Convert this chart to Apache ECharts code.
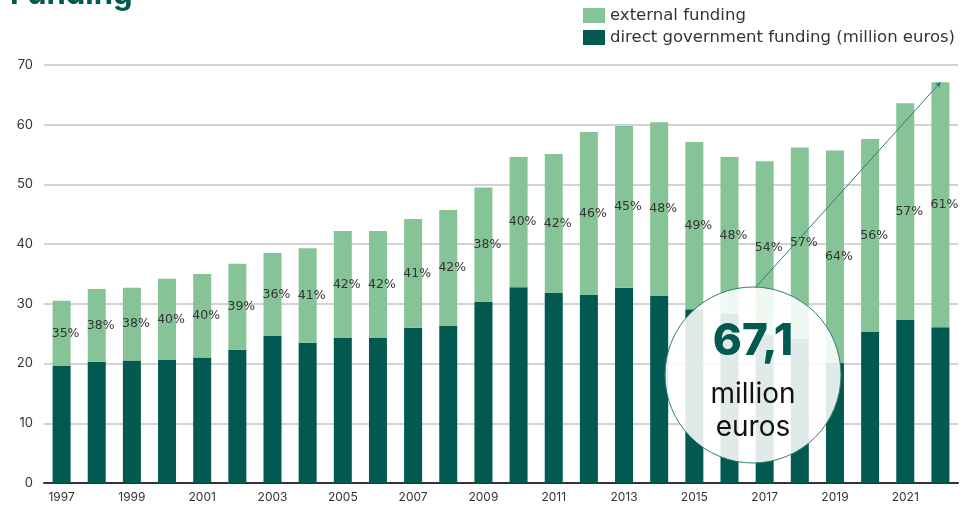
<!DOCTYPE html>
<html>
<head>
<meta charset="utf-8">
<script src="https://cdn.jsdelivr.net/npm/echarts@6/dist/echarts.min.js"></script>
<style>
  html, body { margin: 0; padding: 0; background: #fff; }
  #fundingChart { width: 971px; height: 510px; }
</style>
</head>
<body>
<div id="fundingChart"></div>
<script>
// 数据
const years = ['1997', '1998', '1999', '2000', '2001', '2002', '2003', '2004', '2005', '2006', '2007', '2008', '2009',
  '2010', '2011', '2012', '2013', '2014', '2015', '2016', '2017', '2018', '2019', '2020', '2021', '2022']
const directFunding = [19.6, 20.3, 20.5, 20.6, 21.0, 22.3, 24.6, 23.5, 24.3, 24.3, 26.0, 26.3, 30.3,
  32.8, 31.8, 31.5, 32.7, 31.3, 29.1, 28.3, 24.8, 24.2, 20.1, 25.3, 27.3, 26.1]
const externalFunding = [10.9, 12.2, 12.2, 13.6, 14.0, 14.4, 13.9, 15.8, 17.9, 17.9, 18.2, 19.4, 19.2,
  21.8, 23.3, 27.3, 27.1, 29.1, 28.0, 26.3, 29.1, 32.0, 35.6, 32.3, 36.3, 41.0]
const externalShare = ['35%', '38%', '38%', '40%', '40%', '39%', '36%', '41%', '42%', '42%', '41%', '42%', '38%',
  '40%', '42%', '46%', '45%', '48%', '49%', '48%', '54%', '57%', '64%', '56%', '57%', '61%']
const totalLabel = '67,1'

const darkGreen = '#02594f'
const lightGreen = '#86c497'
const wideFont = '"DejaVu Sans", sans-serif'

const chart = echarts.init(document.getElementById('fundingChart'))

const option = {
  animation: false,
  textStyle: { fontFamily: 'Inter, "Noto Sans", sans-serif' },
  legend: {
    orient: 'vertical',
    left: 578,
    top: 2,
    itemWidth: 22,
    itemHeight: 15,
    itemGap: 5,
    icon: 'rect',
    textStyle: { fontSize: 16.5, color: '#333', fontFamily: wideFont },
    data: ['external funding', 'direct government funding (million euros)']
  },
  grid: {
    left: 44,
    right: 13,
    top: 65,
    bottom: 27
  },
  xAxis: {
    type: 'category',
    data: years,
    axisTick: { show: false },
    axisLine: { lineStyle: { color: '#333', width: 2 } },
    axisLabel: { interval: 1, color: '#333', fontSize: 12, margin: 8 }
  },
  yAxis: {
    type: 'value',
    min: 0,
    max: 70,
    interval: 10,
    axisLabel: { color: '#333', fontSize: 13, margin: 11 },
    splitLine: { lineStyle: { color: '#c4c4c4', width: 1.5 } }
  },
  series: [
    {
      name: 'direct government funding (million euros)',
      type: 'bar',
      stack: 'total',
      barWidth: 18,
      itemStyle: { color: darkGreen },
      data: directFunding
    },
    {
      name: 'external funding',
      type: 'bar',
      stack: 'total',
      barWidth: 18,
      itemStyle: { color: lightGreen },
      label: {
        show: true,
        position: 'inside',
        offset: [4, 0],
        color: '#333',
        fontSize: 12.5,
        fontFamily: wideFont,
        formatter: p => externalShare[p.dataIndex]
      },
      data: externalFunding,
      markLine: {
        silent: true,
        symbol: ['none', 'arrow'],
        symbolSize: 5,
        label: { show: false },
        lineStyle: { color: '#2e7d72', width: 1, type: 'solid' },
        data: [[
          { x: 755, y: 288 },
          { coord: ['2022', directFunding[25] + externalFunding[25]] }
        ]]
      }
    }
  ],
  graphic: [
    {
      type: 'text',
      left: 10,
      top: -21,
      style: {
        text: 'Funding',
        fill: darkGreen,
        font: 'bold 31px Inter, "Noto Sans", sans-serif'
      }
    },
    {
      type: 'circle',
      z: 100,
      shape: { cx: 753, cy: 375, r: 88 },
      style: { fill: 'rgba(255,255,255,0.88)', stroke: '#2e7d72', lineWidth: 1 }
    },
    {
      type: 'text',
      z: 101,
      x: 753,
      y: 342,
      style: {
        text: totalLabel,
        fill: darkGreen,
        font: '800 44px Inter, "Noto Sans", sans-serif',
        align: 'center',
        verticalAlign: 'middle'
      }
    },
    {
      type: 'text',
      z: 101,
      x: 753,
      y: 395,
      style: {
        text: 'million',
        fill: '#111',
        font: '28px Inter, "Noto Sans", sans-serif',
        align: 'center',
        verticalAlign: 'middle'
      }
    },
    {
      type: 'text',
      z: 101,
      x: 753,
      y: 428,
      style: {
        text: 'euros',
        fill: '#111',
        font: '28px Inter, "Noto Sans", sans-serif',
        align: 'center',
        verticalAlign: 'middle'
      }
    }
  ]
}

chart.setOption(option)
</script>
</body>
</html>
